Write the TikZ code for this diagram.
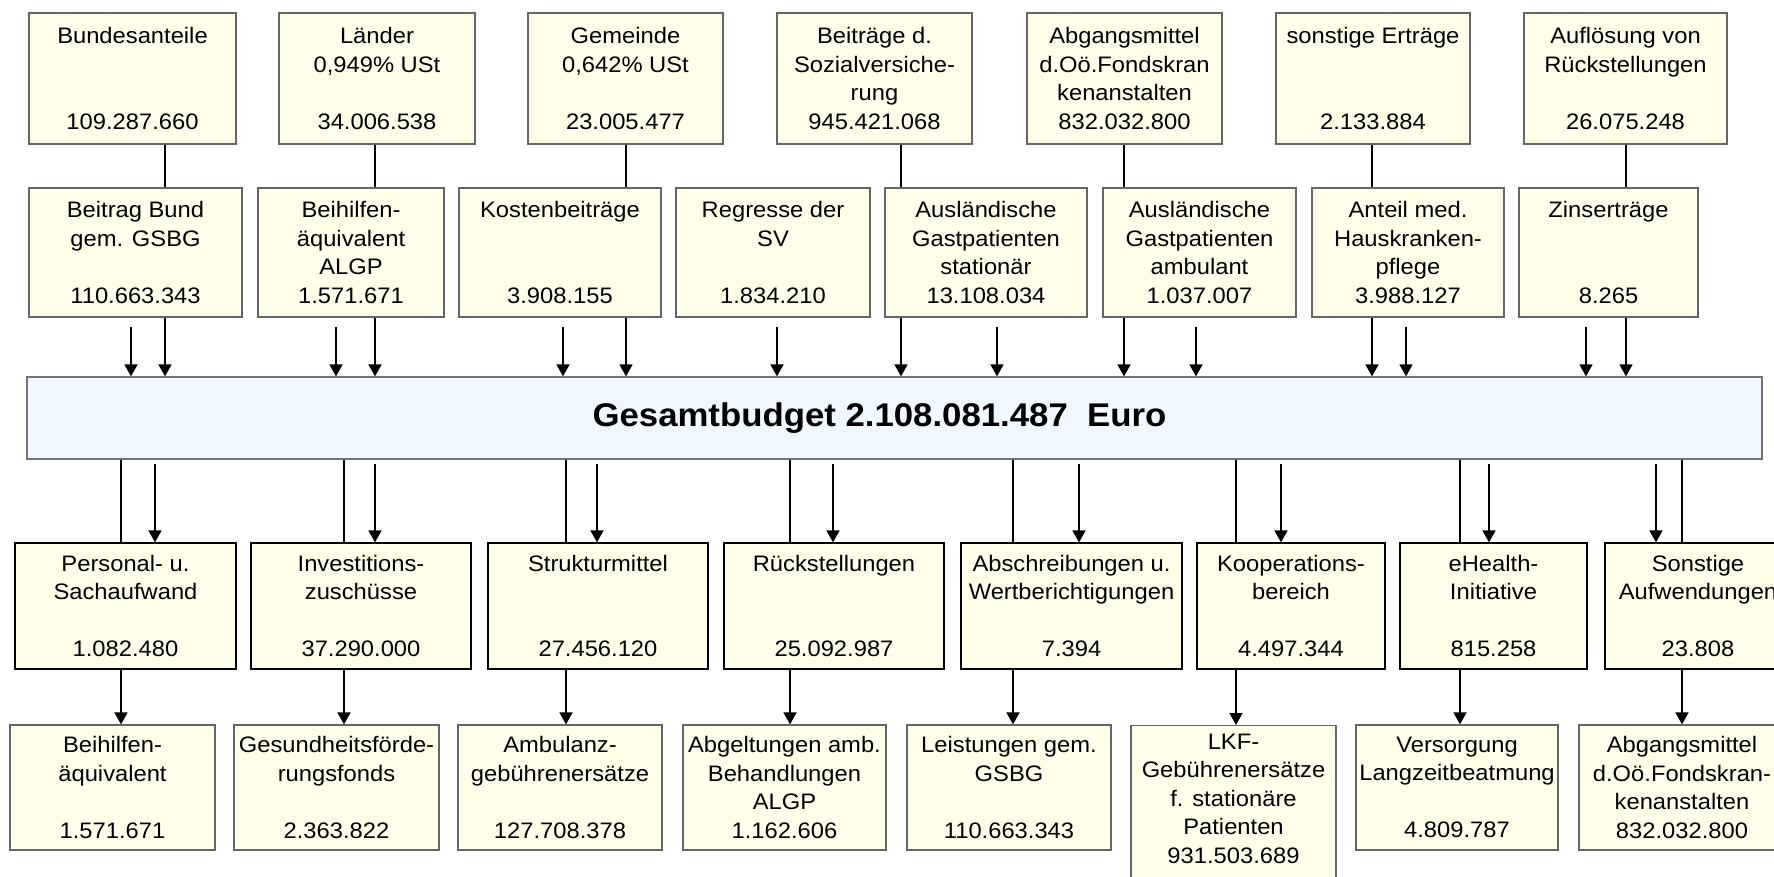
\documentclass[tikz,border=0pt]{standalone}
\usepackage{fontspec}
\setmainfont{Liberation Sans}[FakeStretch=1.06]
\usepackage{tikz}
\usetikzlibrary{arrows.meta, backgrounds}
\definecolor{boxfill}{RGB}{255,255,234}
\definecolor{budgetfill}{RGB}{240,247,254}
\newcommand{\leer}{\mbox{}}

\begin{document}
\begin{tikzpicture}[x=0.5pt, y=-0.5pt, >={Triangle[length=6pt,width=6.5pt]},
  box node/.style={rectangle, draw=black!60, line width=0.6pt, fill=boxfill, align=center,
    inner xsep=1pt, inner ysep=2pt, minimum height=#1, font=\fontsize{11.2}{14.2}\selectfont},
  use node/.style={box node=63pt, draw=black},
  budget node/.style={rectangle, draw=black!55, line width=0.6pt, fill=budgetfill,
    font=\fontsize{16.4}{19}\selectfont\bfseries},
  flow/.style={->, line width=0.8pt}]

\useasboundingbox (0,0) rectangle (1774,877);
\clip (0,0) rectangle (1774,877);

\node[box node=65.5pt, minimum width=103.5pt] (bund) at (132.5,78.5) {Bundesanteile\\\leer\\\leer\\109.287.660};
\node[box node=65.5pt, minimum width=98pt] (laender) at (377,78.5) {Länder\\0,949\% USt\\\leer\\34.006.538};
\node[box node=65.5pt, minimum width=97.5pt] (gemeinde) at (625.5,78.5) {Gemeinde\\0,642\% USt\\\leer\\23.005.477};
\node[box node=65.5pt, minimum width=97.5pt] (sv) at (874.5,78.5) {Beiträge d.\\Sozialversiche-\\rung\\945.421.068};
\node[box node=65.5pt, minimum width=97.5pt] (abgang) at (1124.5,78.5) {Abgangsmittel\\d.Oö.Fondskran\\kenanstalten\\832.032.800};
\node[box node=65.5pt, minimum width=97pt] (sonst) at (1373,78.5) {sonstige Erträge\\\leer\\\leer\\2.133.884};
\node[box node=65.5pt, minimum width=101.5pt] (aufl) at (1625.5,78.5) {Auflösung von\\Rückstellungen\\\leer\\26.075.248};

\node[box node=64.5pt, minimum width=106.5pt] (bbund) at (135.5,252.5) {Beitrag Bund\\gem. GSBG\\\leer\\110.663.343};
\node[box node=64.5pt, minimum width=93pt] (algp) at (351,252.5) {Beihilfen-\\äquivalent\\ALGP\\1.571.671};
\node[box node=64.5pt, minimum width=101pt] (kosten) at (560,252.5) {Kostenbeiträge\\\leer\\\leer\\3.908.155};
\node[box node=64.5pt, minimum width=97pt] (regress) at (773,252.5) {Regresse der\\SV\\\leer\\1.834.210};
\node[box node=64.5pt, minimum width=101pt] (auslst) at (986,252.5) {Ausländische\\Gastpatienten\\stationär\\13.108.034};
\node[box node=64.5pt, minimum width=96.5pt] (auslamb) at (1199.5,252.5) {Ausländische\\Gastpatienten\\ambulant\\1.037.007};
\node[box node=64.5pt, minimum width=96pt] (hkp) at (1408,252.5) {Anteil med.\\Hauskranken-\\pflege\\3.988.127};
\node[box node=64.5pt, minimum width=89.5pt] (zins) at (1608.5,252.5) {Zinserträge\\\leer\\\leer\\8.265};

\node[budget node, minimum width=867.5pt, minimum height=41pt] (gesamt) at (894.5,418) {Gesamtbudget 2.108.081.487\ \ Euro\hspace*{15pt}};

\node[use node, minimum width=110.5pt] (personal) at (125.5,606) {Personal- u.\\Sachaufwand\\\leer\\1.082.480};
\node[use node, minimum width=110pt] (invest) at (361,606) {Investitions-\\zuschüsse\\\leer\\37.290.000};
\node[use node, minimum width=110pt] (struktur) at (598,606) {Strukturmittel\\\leer\\\leer\\27.456.120};
\node[use node, minimum width=110pt] (rueck) at (834,606) {Rückstellungen\\\leer\\\leer\\25.092.987};
\node[use node, minimum width=110.5pt] (abschr) at (1071.5,606) {Abschreibungen u.\\Wertberichtigungen\\\leer\\7.394};
\node[use node, minimum width=94pt] (koop) at (1291,606) {Kooperations-\\bereich\\\leer\\4.497.344};
\node[use node, minimum width=93.5pt] (ehealth) at (1493.5,606) {eHealth-\\Initiative\\\leer\\815.258};
\node[use node, minimum width=93pt] (sonstaufw) at (1698,606) {Sonstige\\Aufwendungen\\\leer\\23.808};

\node[box node=62.5pt, minimum width=102.5pt] (beihilfe) at (112.5,787.5) {Beihilfen-\\äquivalent\\\leer\\1.571.671};
\node[box node=62.5pt, minimum width=102.5pt] (gesund) at (336.5,787.5) {Gesundheitsförde-\\rungsfonds\\\leer\\2.363.822};
\node[box node=62.5pt, minimum width=102pt] (ambulanz) at (560,787.5) {Ambulanz-\\gebührenersätze\\\leer\\127.708.378};
\node[box node=62.5pt, minimum width=101.5pt] (abgelt) at (784.5,787.5) {Abgeltungen amb.\\Behandlungen\\ALGP\\1.162.606};
\node[box node=62.5pt, minimum width=102pt] (leist) at (1009,787.5) {Leistungen gem.\\GSBG\\\leer\\110.663.343};
\node[box node=62.5pt, minimum width=102.5pt, anchor=north, inner ysep=4.25pt] (lkf) at (1233.5,725) {LKF-\\Gebührenersätze\\f. stationäre\\Patienten\\931.503.689\\\leer};
\node[box node=62.5pt, minimum width=101pt] (versorg) at (1457,787.5) {Versorgung\\Langzeitbeatmung\\\leer\\4.809.787};
\node[box node=62.5pt, minimum width=103pt] (abgang2) at (1682,787.5) {Abgangsmittel\\d.Oö.Fondskran-\\kenanstalten\\832.032.800};

\begin{scope}[on background layer]
\foreach \n/\x in {bund/165, laender/375, gemeinde/626, sv/901, abgang/1124, sonst/1372, aufl/1626}
  \draw[flow] (\n.south -| \x,0) -- (gesamt.north -| \x,0);
\foreach \n/\x in {beihilfe/121, gesund/344, ambulanz/566, abgelt/790, leist/1013, lkf/1236, versorg/1460, abgang2/1682}
  \draw[flow] (gesamt.south -| \x,0) -- (\n.north -| \x,0);
\end{scope}

\foreach \n/\x in {bbund/131, algp/336, kosten/563, regress/777, auslst/997, auslamb/1196, hkp/1406, zins/1586}
  \draw[flow, shorten <=4.5pt] (\n.south -| \x,0) -- (gesamt.north -| \x,0);
\foreach \n/\x in {personal/155, invest/375, struktur/597, rueck/833, abschr/1079, koop/1281, ehealth/1489, sonstaufw/1656}
  \draw[flow, shorten <=2pt] (gesamt.south -| \x,0) -- (\n.north -| \x,0);

\end{tikzpicture}
\end{document}
